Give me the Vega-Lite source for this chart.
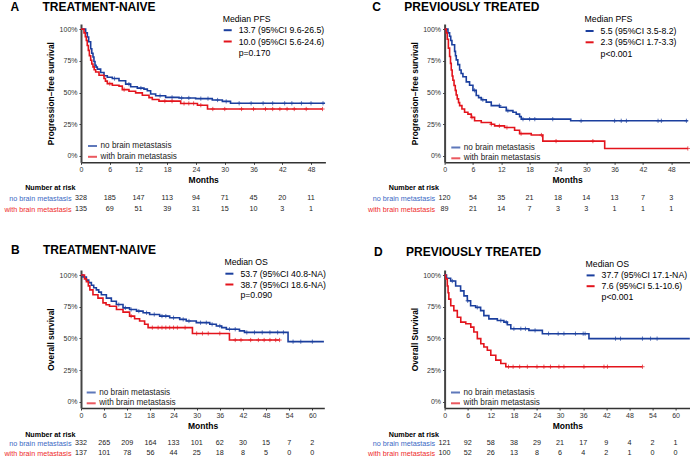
{
  "$schema": "https://vega.github.io/schema/vega-lite/v6.json",
  "padding": {"left": 3, "top": 0, "right": 0, "bottom": 0},
  "config": {"font": "Liberation Sans", "view": {"stroke": null}, "legend": {"padding": 0}, "axis": {"grid": false, "labelOverlap": false, "labelFlush": false, "labelBound": false}},
  "datasets": {
    "km": [
      {"p":"A","g":"no","t":0,"s":1},{"p":"A","g":"no","t":0.97,"s":0.97},{"p":"A","g":"no","t":1.32,"s":0.937},{"p":"A","g":"no","t":1.6,"s":0.9},{"p":"A","g":"no","t":2.02,"s":0.845},{"p":"A","g":"no","t":2.25,"s":0.81},{"p":"A","g":"no","t":2.5,"s":0.78},{"p":"A","g":"no","t":2.7,"s":0.745},{"p":"A","g":"no","t":2.92,"s":0.714},{"p":"A","g":"no","t":3.15,"s":0.7},{"p":"A","g":"no","t":3.41,"s":0.684},{"p":"A","g":"no","t":4.1,"s":0.658},{"p":"A","g":"no","t":4.8,"s":0.632},{"p":"A","g":"no","t":5.49,"s":0.62},{"p":"A","g":"no","t":6.54,"s":0.61},{"p":"A","g":"no","t":7.93,"s":0.593},{"p":"A","g":"no","t":9.32,"s":0.566},{"p":"A","g":"no","t":10.36,"s":0.545},{"p":"A","g":"no","t":11.75,"s":0.535},{"p":"A","g":"no","t":13.14,"s":0.527},{"p":"A","g":"no","t":13.84,"s":0.514},{"p":"A","g":"no","t":14.53,"s":0.488},{"p":"A","g":"no","t":15.58,"s":0.475},{"p":"A","g":"no","t":17.66,"s":0.462},{"p":"A","g":"no","t":20.45,"s":0.457},{"p":"A","g":"no","t":23.92,"s":0.452},{"p":"A","g":"no","t":27.4,"s":0.441},{"p":"A","g":"no","t":29.5,"s":0.43},{"p":"A","g":"no","t":31.2,"s":0.415},{"p":"A","g":"no","t":50.9,"s":0.415},
      {"p":"A","g":"with","t":0,"s":1},{"p":"A","g":"with","t":0.63,"s":0.97},{"p":"A","g":"with","t":0.9,"s":0.94},{"p":"A","g":"with","t":1.11,"s":0.91},{"p":"A","g":"with","t":1.3,"s":0.87},{"p":"A","g":"with","t":1.53,"s":0.832},{"p":"A","g":"with","t":1.75,"s":0.79},{"p":"A","g":"with","t":2.02,"s":0.754},{"p":"A","g":"with","t":2.25,"s":0.725},{"p":"A","g":"with","t":2.5,"s":0.702},{"p":"A","g":"with","t":2.75,"s":0.68},{"p":"A","g":"with","t":3.06,"s":0.662},{"p":"A","g":"with","t":3.76,"s":0.636},{"p":"A","g":"with","t":4.8,"s":0.61},{"p":"A","g":"with","t":5.1,"s":0.59},{"p":"A","g":"with","t":5.49,"s":0.57},{"p":"A","g":"with","t":6.54,"s":0.557},{"p":"A","g":"with","t":7.93,"s":0.55},{"p":"A","g":"with","t":8.62,"s":0.523},{"p":"A","g":"with","t":10.01,"s":0.51},{"p":"A","g":"with","t":11.4,"s":0.497},{"p":"A","g":"with","t":12.8,"s":0.479},{"p":"A","g":"with","t":14.19,"s":0.46},{"p":"A","g":"with","t":14.88,"s":0.445},{"p":"A","g":"with","t":16.27,"s":0.432},{"p":"A","g":"with","t":20.8,"s":0.414},{"p":"A","g":"with","t":24.3,"s":0.4},{"p":"A","g":"with","t":26.4,"s":0.37},{"p":"A","g":"with","t":50.4,"s":0.37},
      {"p":"C","g":"no","t":0,"s":1},{"p":"C","g":"no","t":0.71,"s":0.97},{"p":"C","g":"no","t":1.06,"s":0.944},{"p":"C","g":"no","t":1.3,"s":0.91},{"p":"C","g":"no","t":1.55,"s":0.877},{"p":"C","g":"no","t":2.12,"s":0.824},{"p":"C","g":"no","t":2.3,"s":0.79},{"p":"C","g":"no","t":2.47,"s":0.757},{"p":"C","g":"no","t":2.8,"s":0.72},{"p":"C","g":"no","t":3.18,"s":0.677},{"p":"C","g":"no","t":3.5,"s":0.65},{"p":"C","g":"no","t":3.88,"s":0.624},{"p":"C","g":"no","t":4.59,"s":0.584},{"p":"C","g":"no","t":5.29,"s":0.557},{"p":"C","g":"no","t":6.0,"s":0.517},{"p":"C","g":"no","t":6.7,"s":0.477},{"p":"C","g":"no","t":7.2,"s":0.46},{"p":"C","g":"no","t":7.76,"s":0.443},{"p":"C","g":"no","t":8.82,"s":0.424},{"p":"C","g":"no","t":9.88,"s":0.397},{"p":"C","g":"no","t":11.64,"s":0.384},{"p":"C","g":"no","t":13.06,"s":0.357},{"p":"C","g":"no","t":14.47,"s":0.344},{"p":"C","g":"no","t":15.17,"s":0.33},{"p":"C","g":"no","t":15.88,"s":0.31},{"p":"C","g":"no","t":16.23,"s":0.29},{"p":"C","g":"no","t":26.7,"s":0.277},{"p":"C","g":"no","t":51.5,"s":0.277},
      {"p":"C","g":"with","t":0,"s":1},{"p":"C","g":"with","t":0.35,"s":0.97},{"p":"C","g":"with","t":0.56,"s":0.92},{"p":"C","g":"with","t":0.8,"s":0.85},{"p":"C","g":"with","t":1.06,"s":0.784},{"p":"C","g":"with","t":1.25,"s":0.73},{"p":"C","g":"with","t":1.41,"s":0.677},{"p":"C","g":"with","t":1.6,"s":0.63},{"p":"C","g":"with","t":1.76,"s":0.597},{"p":"C","g":"with","t":2.0,"s":0.555},{"p":"C","g":"with","t":2.26,"s":0.517},{"p":"C","g":"with","t":2.45,"s":0.48},{"p":"C","g":"with","t":2.68,"s":0.45},{"p":"C","g":"with","t":2.95,"s":0.42},{"p":"C","g":"with","t":3.18,"s":0.397},{"p":"C","g":"with","t":3.67,"s":0.37},{"p":"C","g":"with","t":4.23,"s":0.344},{"p":"C","g":"with","t":4.94,"s":0.33},{"p":"C","g":"with","t":5.65,"s":0.304},{"p":"C","g":"with","t":6.35,"s":0.277},{"p":"C","g":"with","t":7.76,"s":0.264},{"p":"C","g":"with","t":9.88,"s":0.25},{"p":"C","g":"with","t":10.59,"s":0.237},{"p":"C","g":"with","t":12.7,"s":0.224},{"p":"C","g":"with","t":14.82,"s":0.203},{"p":"C","g":"with","t":15.88,"s":0.176},{"p":"C","g":"with","t":18.35,"s":0.165},{"p":"C","g":"with","t":20.8,"s":0.117},{"p":"C","g":"with","t":33.9,"s":0.059},{"p":"C","g":"with","t":51.5,"s":0.059},
      {"p":"B","g":"no","t":0,"s":1},{"p":"B","g":"no","t":0.5,"s":0.985},{"p":"B","g":"no","t":1.39,"s":0.96},{"p":"B","g":"no","t":2.0,"s":0.94},{"p":"B","g":"no","t":2.69,"s":0.92},{"p":"B","g":"no","t":3.3,"s":0.9},{"p":"B","g":"no","t":3.98,"s":0.883},{"p":"B","g":"no","t":4.6,"s":0.865},{"p":"B","g":"no","t":5.28,"s":0.844},{"p":"B","g":"no","t":6.58,"s":0.818},{"p":"B","g":"no","t":7.87,"s":0.793},{"p":"B","g":"no","t":9.17,"s":0.767},{"p":"B","g":"no","t":10.9,"s":0.741},{"p":"B","g":"no","t":12.6,"s":0.728},{"p":"B","g":"no","t":14.4,"s":0.715},{"p":"B","g":"no","t":16.1,"s":0.702},{"p":"B","g":"no","t":17.8,"s":0.689},{"p":"B","g":"no","t":20.4,"s":0.676},{"p":"B","g":"no","t":23.0,"s":0.663},{"p":"B","g":"no","t":25.6,"s":0.65},{"p":"B","g":"no","t":27.3,"s":0.637},{"p":"B","g":"no","t":29.9,"s":0.624},{"p":"B","g":"no","t":33.4,"s":0.611},{"p":"B","g":"no","t":35.1,"s":0.598},{"p":"B","g":"no","t":36.5,"s":0.585},{"p":"B","g":"no","t":37.7,"s":0.572},{"p":"B","g":"no","t":41.1,"s":0.559},{"p":"B","g":"no","t":42.4,"s":0.547},{"p":"B","g":"no","t":53.7,"s":0.474},{"p":"B","g":"no","t":63.0,"s":0.474},
      {"p":"B","g":"with","t":0,"s":1},{"p":"B","g":"with","t":0.9,"s":0.97},{"p":"B","g":"with","t":1.4,"s":0.948},{"p":"B","g":"with","t":1.9,"s":0.915},{"p":"B","g":"with","t":2.3,"s":0.883},{"p":"B","g":"with","t":3.1,"s":0.844},{"p":"B","g":"with","t":4.4,"s":0.818},{"p":"B","g":"with","t":5.7,"s":0.78},{"p":"B","g":"with","t":6.5,"s":0.765},{"p":"B","g":"with","t":7.4,"s":0.754},{"p":"B","g":"with","t":9.2,"s":0.728},{"p":"B","g":"with","t":10.9,"s":0.707},{"p":"B","g":"with","t":12.6,"s":0.676},{"p":"B","g":"with","t":13.9,"s":0.655},{"p":"B","g":"with","t":15.2,"s":0.637},{"p":"B","g":"with","t":16.5,"s":0.611},{"p":"B","g":"with","t":17.4,"s":0.585},{"p":"B","g":"with","t":28.9,"s":0.539},{"p":"B","g":"with","t":38.5,"s":0.487},{"p":"B","g":"with","t":51.5,"s":0.487},
      {"p":"D","g":"no","t":0,"s":1},{"p":"D","g":"no","t":0.5,"s":0.975},{"p":"D","g":"no","t":1.57,"s":0.953},{"p":"D","g":"no","t":2.87,"s":0.914},{"p":"D","g":"no","t":4.16,"s":0.875},{"p":"D","g":"no","t":5.03,"s":0.836},{"p":"D","g":"no","t":5.9,"s":0.797},{"p":"D","g":"no","t":6.76,"s":0.758},{"p":"D","g":"no","t":8.06,"s":0.745},{"p":"D","g":"no","t":9.36,"s":0.719},{"p":"D","g":"no","t":10.2,"s":0.68},{"p":"D","g":"no","t":11.5,"s":0.654},{"p":"D","g":"no","t":13.7,"s":0.641},{"p":"D","g":"no","t":15.4,"s":0.628},{"p":"D","g":"no","t":16.3,"s":0.607},{"p":"D","g":"no","t":17.2,"s":0.576},{"p":"D","g":"no","t":21.9,"s":0.563},{"p":"D","g":"no","t":25.4,"s":0.537},{"p":"D","g":"no","t":37.5,"s":0.498},{"p":"D","g":"no","t":63.7,"s":0.498},
      {"p":"D","g":"with","t":0,"s":1},{"p":"D","g":"with","t":0.3,"s":0.97},{"p":"D","g":"with","t":0.7,"s":0.914},{"p":"D","g":"with","t":0.9,"s":0.86},{"p":"D","g":"with","t":1.1,"s":0.81},{"p":"D","g":"with","t":1.6,"s":0.758},{"p":"D","g":"with","t":2.4,"s":0.719},{"p":"D","g":"with","t":3.3,"s":0.667},{"p":"D","g":"with","t":4.2,"s":0.628},{"p":"D","g":"with","t":5.5,"s":0.615},{"p":"D","g":"with","t":6.8,"s":0.589},{"p":"D","g":"with","t":7.6,"s":0.55},{"p":"D","g":"with","t":8.5,"s":0.498},{"p":"D","g":"with","t":9.4,"s":0.458},{"p":"D","g":"with","t":10.2,"s":0.432},{"p":"D","g":"with","t":11.1,"s":0.406},{"p":"D","g":"with","t":12.0,"s":0.367},{"p":"D","g":"with","t":13.3,"s":0.328},{"p":"D","g":"with","t":14.6,"s":0.302},{"p":"D","g":"with","t":15.9,"s":0.276},{"p":"D","g":"with","t":51.4,"s":0.276}
    ],
    "cens": [
      {"p":"A","g":"no","t":7,"s":0.61},{"p":"A","g":"no","t":10,"s":0.566},{"p":"A","g":"no","t":12.5,"s":0.535},{"p":"A","g":"no","t":16.5,"s":0.475},{"p":"A","g":"no","t":19,"s":0.462},{"p":"A","g":"no","t":21,"s":0.457},{"p":"A","g":"no","t":22.5,"s":0.457},{"p":"A","g":"no","t":25,"s":0.452},{"p":"A","g":"no","t":26.5,"s":0.452},{"p":"A","g":"no","t":28.5,"s":0.441},{"p":"A","g":"no","t":30.3,"s":0.43},{"p":"A","g":"no","t":33,"s":0.415},{"p":"A","g":"no","t":35.5,"s":0.415},{"p":"A","g":"no","t":38,"s":0.415},{"p":"A","g":"no","t":40,"s":0.415},{"p":"A","g":"no","t":42.5,"s":0.415},{"p":"A","g":"no","t":44,"s":0.415},{"p":"A","g":"no","t":46,"s":0.415},{"p":"A","g":"no","t":48,"s":0.415},{"p":"A","g":"no","t":50.5,"s":0.415},
      {"p":"A","g":"with","t":6,"s":0.57},{"p":"A","g":"with","t":9,"s":0.523},{"p":"A","g":"with","t":17.5,"s":0.432},{"p":"A","g":"with","t":19,"s":0.432},{"p":"A","g":"with","t":21.5,"s":0.414},{"p":"A","g":"with","t":22.5,"s":0.414},{"p":"A","g":"with","t":23.5,"s":0.414},{"p":"A","g":"with","t":25,"s":0.4},{"p":"A","g":"with","t":27.5,"s":0.37},{"p":"A","g":"with","t":30,"s":0.37},{"p":"A","g":"with","t":33.5,"s":0.37},{"p":"A","g":"with","t":36,"s":0.37},{"p":"A","g":"with","t":38.5,"s":0.37},{"p":"A","g":"with","t":40,"s":0.37},{"p":"A","g":"with","t":41.5,"s":0.37},{"p":"A","g":"with","t":43,"s":0.37},{"p":"A","g":"with","t":44.5,"s":0.37},{"p":"A","g":"with","t":47,"s":0.37},{"p":"A","g":"with","t":50.4,"s":0.37},
      {"p":"C","g":"no","t":6.35,"s":0.517},{"p":"C","g":"no","t":8.1,"s":0.443},{"p":"C","g":"no","t":11.6,"s":0.397},{"p":"C","g":"no","t":13.4,"s":0.357},{"p":"C","g":"no","t":16.6,"s":0.29},{"p":"C","g":"no","t":18,"s":0.29},{"p":"C","g":"no","t":19.1,"s":0.29},{"p":"C","g":"no","t":22.9,"s":0.29},{"p":"C","g":"no","t":28.9,"s":0.277},{"p":"C","g":"no","t":36,"s":0.277},{"p":"C","g":"no","t":37.4,"s":0.277},{"p":"C","g":"no","t":38.5,"s":0.277},{"p":"C","g":"no","t":45.2,"s":0.277},{"p":"C","g":"no","t":45.9,"s":0.277},{"p":"C","g":"no","t":51.2,"s":0.277},
      {"p":"C","g":"with","t":5.8,"s":0.304},{"p":"C","g":"with","t":9.9,"s":0.25},{"p":"C","g":"with","t":11.6,"s":0.237},{"p":"C","g":"with","t":13.2,"s":0.224},{"p":"C","g":"with","t":16.2,"s":0.176},{"p":"C","g":"with","t":20.5,"s":0.165},{"p":"C","g":"with","t":23.6,"s":0.117},{"p":"C","g":"with","t":31.4,"s":0.117},{"p":"C","g":"with","t":51.5,"s":0.059},
      {"p":"B","g":"no","t":9.8,"s":0.767},{"p":"B","g":"no","t":11.5,"s":0.741},{"p":"B","g":"no","t":13,"s":0.728},{"p":"B","g":"no","t":15,"s":0.715},{"p":"B","g":"no","t":17,"s":0.702},{"p":"B","g":"no","t":19,"s":0.689},{"p":"B","g":"no","t":21,"s":0.676},{"p":"B","g":"no","t":22,"s":0.676},{"p":"B","g":"no","t":24,"s":0.663},{"p":"B","g":"no","t":26.5,"s":0.65},{"p":"B","g":"no","t":28,"s":0.637},{"p":"B","g":"no","t":31,"s":0.624},{"p":"B","g":"no","t":32.5,"s":0.624},{"p":"B","g":"no","t":34,"s":0.611},{"p":"B","g":"no","t":36,"s":0.598},{"p":"B","g":"no","t":38.5,"s":0.572},{"p":"B","g":"no","t":40,"s":0.572},{"p":"B","g":"no","t":43,"s":0.547},{"p":"B","g":"no","t":45,"s":0.547},{"p":"B","g":"no","t":47,"s":0.547},{"p":"B","g":"no","t":49,"s":0.547},{"p":"B","g":"no","t":51,"s":0.547},{"p":"B","g":"no","t":52.5,"s":0.547},{"p":"B","g":"no","t":55,"s":0.474},{"p":"B","g":"no","t":57,"s":0.474},{"p":"B","g":"no","t":60,"s":0.474},
      {"p":"B","g":"with","t":13,"s":0.676},{"p":"B","g":"with","t":18.5,"s":0.585},{"p":"B","g":"with","t":20,"s":0.585},{"p":"B","g":"with","t":21,"s":0.585},{"p":"B","g":"with","t":22,"s":0.585},{"p":"B","g":"with","t":23,"s":0.585},{"p":"B","g":"with","t":24,"s":0.585},{"p":"B","g":"with","t":25,"s":0.585},{"p":"B","g":"with","t":27,"s":0.585},{"p":"B","g":"with","t":30,"s":0.539},{"p":"B","g":"with","t":31.5,"s":0.539},{"p":"B","g":"with","t":33,"s":0.539},{"p":"B","g":"with","t":36,"s":0.539},{"p":"B","g":"with","t":40,"s":0.487},{"p":"B","g":"with","t":41.5,"s":0.487},{"p":"B","g":"with","t":44,"s":0.487},{"p":"B","g":"with","t":46,"s":0.487},{"p":"B","g":"with","t":47.5,"s":0.487},{"p":"B","g":"with","t":49,"s":0.487},{"p":"B","g":"with","t":50.5,"s":0.487},{"p":"B","g":"with","t":51.5,"s":0.487},
      {"p":"D","g":"no","t":2.0,"s":0.953},{"p":"D","g":"no","t":6.0,"s":0.797},{"p":"D","g":"no","t":8.5,"s":0.745},{"p":"D","g":"no","t":14.6,"s":0.641},{"p":"D","g":"no","t":16.0,"s":0.628},{"p":"D","g":"no","t":18.0,"s":0.576},{"p":"D","g":"no","t":19.8,"s":0.576},{"p":"D","g":"no","t":21.0,"s":0.576},{"p":"D","g":"no","t":23.5,"s":0.563},{"p":"D","g":"no","t":27,"s":0.537},{"p":"D","g":"no","t":29.5,"s":0.537},{"p":"D","g":"no","t":31,"s":0.537},{"p":"D","g":"no","t":34,"s":0.537},{"p":"D","g":"no","t":36,"s":0.537},{"p":"D","g":"no","t":36.5,"s":0.537},{"p":"D","g":"no","t":44.4,"s":0.498},{"p":"D","g":"no","t":45.7,"s":0.498},{"p":"D","g":"no","t":51.4,"s":0.498},{"p":"D","g":"no","t":53.5,"s":0.498},{"p":"D","g":"no","t":55.2,"s":0.498},
      {"p":"D","g":"with","t":16.6,"s":0.276},{"p":"D","g":"with","t":17.8,"s":0.276},{"p":"D","g":"with","t":19.5,"s":0.276},{"p":"D","g":"with","t":21.5,"s":0.276},{"p":"D","g":"with","t":24.0,"s":0.276},{"p":"D","g":"with","t":25.8,"s":0.276},{"p":"D","g":"with","t":27.5,"s":0.276},{"p":"D","g":"with","t":29.7,"s":0.276},{"p":"D","g":"with","t":31.0,"s":0.276},{"p":"D","g":"with","t":36.2,"s":0.276},{"p":"D","g":"with","t":41.4,"s":0.276},{"p":"D","g":"with","t":42.3,"s":0.276},{"p":"D","g":"with","t":51.4,"s":0.276}
    ],
    "risk": [
      {"p":"A","g":"no","t":0,"n":328},{"p":"A","g":"no","t":6,"n":185},{"p":"A","g":"no","t":12,"n":147},{"p":"A","g":"no","t":18,"n":113},{"p":"A","g":"no","t":24,"n":94},{"p":"A","g":"no","t":30,"n":71},{"p":"A","g":"no","t":36,"n":45},{"p":"A","g":"no","t":42,"n":20},{"p":"A","g":"no","t":48,"n":11},
      {"p":"A","g":"with","t":0,"n":135},{"p":"A","g":"with","t":6,"n":69},{"p":"A","g":"with","t":12,"n":51},{"p":"A","g":"with","t":18,"n":39},{"p":"A","g":"with","t":24,"n":31},{"p":"A","g":"with","t":30,"n":15},{"p":"A","g":"with","t":36,"n":10},{"p":"A","g":"with","t":42,"n":3},{"p":"A","g":"with","t":48,"n":1},
      {"p":"C","g":"no","t":0,"n":120},{"p":"C","g":"no","t":6,"n":54},{"p":"C","g":"no","t":12,"n":35},{"p":"C","g":"no","t":18,"n":21},{"p":"C","g":"no","t":24,"n":18},{"p":"C","g":"no","t":30,"n":14},{"p":"C","g":"no","t":36,"n":13},{"p":"C","g":"no","t":42,"n":7},{"p":"C","g":"no","t":48,"n":3},
      {"p":"C","g":"with","t":0,"n":89},{"p":"C","g":"with","t":6,"n":21},{"p":"C","g":"with","t":12,"n":14},{"p":"C","g":"with","t":18,"n":7},{"p":"C","g":"with","t":24,"n":3},{"p":"C","g":"with","t":30,"n":3},{"p":"C","g":"with","t":36,"n":1},{"p":"C","g":"with","t":42,"n":1},{"p":"C","g":"with","t":48,"n":1},
      {"p":"B","g":"no","t":0,"n":332},{"p":"B","g":"no","t":6,"n":265},{"p":"B","g":"no","t":12,"n":209},{"p":"B","g":"no","t":18,"n":164},{"p":"B","g":"no","t":24,"n":133},{"p":"B","g":"no","t":30,"n":101},{"p":"B","g":"no","t":36,"n":62},{"p":"B","g":"no","t":42,"n":30},{"p":"B","g":"no","t":48,"n":15},{"p":"B","g":"no","t":54,"n":7},{"p":"B","g":"no","t":60,"n":2},
      {"p":"B","g":"with","t":0,"n":137},{"p":"B","g":"with","t":6,"n":101},{"p":"B","g":"with","t":12,"n":78},{"p":"B","g":"with","t":18,"n":56},{"p":"B","g":"with","t":24,"n":44},{"p":"B","g":"with","t":30,"n":25},{"p":"B","g":"with","t":36,"n":18},{"p":"B","g":"with","t":42,"n":8},{"p":"B","g":"with","t":48,"n":5},{"p":"B","g":"with","t":54,"n":0},{"p":"B","g":"with","t":60,"n":0},
      {"p":"D","g":"no","t":0,"n":121},{"p":"D","g":"no","t":6,"n":92},{"p":"D","g":"no","t":12,"n":58},{"p":"D","g":"no","t":18,"n":38},{"p":"D","g":"no","t":24,"n":29},{"p":"D","g":"no","t":30,"n":21},{"p":"D","g":"no","t":36,"n":17},{"p":"D","g":"no","t":42,"n":9},{"p":"D","g":"no","t":48,"n":4},{"p":"D","g":"no","t":54,"n":2},{"p":"D","g":"no","t":60,"n":1},
      {"p":"D","g":"with","t":0,"n":100},{"p":"D","g":"with","t":6,"n":52},{"p":"D","g":"with","t":12,"n":26},{"p":"D","g":"with","t":18,"n":13},{"p":"D","g":"with","t":24,"n":8},{"p":"D","g":"with","t":30,"n":6},{"p":"D","g":"with","t":36,"n":4},{"p":"D","g":"with","t":42,"n":2},{"p":"D","g":"with","t":48,"n":1},{"p":"D","g":"with","t":54,"n":0},{"p":"D","g":"with","t":60,"n":0}
    ],
    "med": [
      {"p":"A","label":"13.7 (95%CI 9.6-26.5)"},{"p":"A","label":"10.0 (95%CI 5.6-24.6)"},{"p":"A","label":"p=0.170"},
      {"p":"C","label":"5.5 (95%CI 3.5-8.2)"},{"p":"C","label":"2.3 (95%CI 1.7-3.3)"},{"p":"C","label":"p<0.001"},
      {"p":"B","label":"53.7 (95%CI 40.8-NA)"},{"p":"B","label":"38.7 (95%CI 18.6-NA)"},{"p":"B","label":"p=0.090"},
      {"p":"D","label":"37.7 (95%CI 17.1-NA)"},{"p":"D","label":"7.6 (95%CI 5.1-10.6)"},{"p":"D","label":"p<0.001"}
    ]
  },
  "resolve": {"scale": {"x": "independent", "y": "independent", "color": "independent", "stroke": "independent"}, "legend": {"color": "independent", "stroke": "independent"}, "axis": {"x": "independent", "y": "independent"}},
  "bounds": "flush",
  "columns": 2,
  "spacing": {"row": 2, "column": 118.6},
  "concat": [
    {
      "width": 244.4, "height": 138.3,
      "title": {"text": "A\u00a0\u00a0\u00a0\u00a0\u00a0\u00a0\u00a0TREATMENT-NAIVE", "anchor": "start", "frame": "group", "dx": -70.5, "offset": 1, "fontSize": 12, "fontWeight": "bold", "color": "#000"},
      "encoding": {
        "x": {"field": "t", "type": "quantitative", "scale": {"domain": [0, 51], "nice": false, "zero": false},
              "axis": {"values": [0,6,12,18,24,30,36,42,48], "labelOverlap": false, "labelBound": false, "format": "d", "title": "Months", "titleFontSize": 8.5, "titleFontWeight": "bold", "titleColor": "#000", "titlePadding": 3, "labelFontSize": 7, "labelColor": "#333", "labelPadding": 1, "tickSize": 2, "tickColor": "#333", "domainColor": "#333", "domainWidth": 1.5}},
        "y": {"field": "s", "type": "quantitative", "scale": {"domain": [-0.05, 1.04], "nice": false, "zero": false},
              "axis": {"values": [0,0.25,0.5,0.75,1], "labelOverlap": false, "labelBound": false, "format": ".0%", "title": "Progression−free survival", "titleFontSize": 8.4, "titleFontWeight": "bold", "titleColor": "#000", "titlePadding": 3.5, "labelFontSize": 7, "labelColor": "#333", "labelPadding": 2, "tickSize": 2, "tickColor": "#333", "domainColor": "#444", "domainWidth": 2}}
      },
      "layer": [
        {"data": {"name": "km"}, "transform": [{"filter": "datum.p == 'A'"}],
         "mark": {"type": "line", "interpolate": "step-after", "strokeWidth": 1.6},
         "encoding": {
           "stroke": {"field": "g", "type": "nominal", "scale": {"domain": ["no", "with"], "range": ["#1b3f9e", "#e3141c"]},
                 "legend": {"orient": "none", "legendX": 6, "legendY": 116.5, "title": null, "labelExpr": "datum.value == 'no' ? 'no brain metastasis' : 'with brain metastasis'", "labelFontSize": 8.2, "labelColor": "#222", "symbolType": "stroke", "symbolSize": 81, "symbolStrokeWidth": 2, "labelOffset": 2.5, "rowPadding": 0.8}}
         }},
        {"data": {"name": "cens"}, "transform": [{"filter": "datum.p == 'A'"}],
         "mark": {"type": "point", "shape": "M-1,0H1M0,-1V1", "filled": false, "size": 18, "strokeWidth": 1},
         "encoding": {"stroke": {"field": "g", "type": "nominal"}}},
        {"data": {"name": "med"}, "transform": [{"filter": "datum.p == 'A'"}],
         "mark": {"type": "point", "shape": "stroke", "size": 0, "filled": false},
         "encoding": {"x": {"value": 0}, "y": {"value": 0}, "color": {"field": "label", "type": "nominal", "scale": {"domain": ["13.7 (95%CI 9.6-26.5)", "10.0 (95%CI 5.6-24.6)", "p=0.170"], "range": ["#1b3f9e", "#e3141c", "rgba(0,0,0,0)"]},
           "legend": {"orient": "none", "legendX": 141.7, "legendY": -9.5, "title": "Median PFS", "titleFontSize": 8.7, "titleFontWeight": "normal", "titleColor": "#000", "titlePadding": 2, "labelFontSize": 8.7, "labelColor": "#000", "symbolType": "stroke", "symbolSize": 64, "symbolStrokeWidth": 2, "symbolOpacity": 1, "labelOffset": 6, "rowPadding": 1.3}}}}
      ]
    },
    {
      "width": 245.1, "height": 138.3,
      "title": {"text": "C\u00a0\u00a0\u00a0\u00a0\u00a0\u00a0\u00a0PREVIOUSLY TREATED", "anchor": "start", "frame": "group", "dx": -72.3, "offset": 1, "fontSize": 12, "fontWeight": "bold", "color": "#000"},
      "encoding": {
        "x": {"field": "t", "type": "quantitative", "scale": {"domain": [0, 51.9], "nice": false, "zero": false},
              "axis": {"values": [0,6,12,18,24,30,36,42,48], "labelOverlap": false, "labelBound": false, "format": "d", "title": "Months", "titleFontSize": 8.5, "titleFontWeight": "bold", "titleColor": "#000", "titlePadding": 3, "labelFontSize": 7, "labelColor": "#333", "labelPadding": 1, "tickSize": 2, "tickColor": "#333", "domainColor": "#333", "domainWidth": 1.5}},
        "y": {"field": "s", "type": "quantitative", "scale": {"domain": [-0.05, 1.04], "nice": false, "zero": false},
              "axis": {"values": [0,0.25,0.5,0.75,1], "labelOverlap": false, "labelBound": false, "format": ".0%", "title": "Progression−free survival", "titleFontSize": 8.4, "titleFontWeight": "bold", "titleColor": "#000", "titlePadding": 3.5, "labelFontSize": 7, "labelColor": "#333", "labelPadding": 2, "tickSize": 2, "tickColor": "#333", "domainColor": "#444", "domainWidth": 2}}
      },
      "layer": [
        {"data": {"name": "km"}, "transform": [{"filter": "datum.p == 'C'"}],
         "mark": {"type": "line", "interpolate": "step-after", "strokeWidth": 1.6},
         "encoding": {
           "stroke": {"field": "g", "type": "nominal", "scale": {"domain": ["no", "with"], "range": ["#1b3f9e", "#e3141c"]},
                 "legend": {"orient": "none", "legendX": 5.7, "legendY": 118, "title": null, "labelExpr": "datum.value == 'no' ? 'no brain metastasis' : 'with brain metastasis'", "labelFontSize": 8.2, "labelColor": "#222", "symbolType": "stroke", "symbolSize": 81, "symbolStrokeWidth": 2, "labelOffset": 2.5, "rowPadding": 0.8}}
         }},
        {"data": {"name": "cens"}, "transform": [{"filter": "datum.p == 'C'"}],
         "mark": {"type": "point", "shape": "M-1,0H1M0,-1V1", "filled": false, "size": 18, "strokeWidth": 1},
         "encoding": {"stroke": {"field": "g", "type": "nominal"}}},
        {"data": {"name": "med"}, "transform": [{"filter": "datum.p == 'C'"}],
         "mark": {"type": "point", "shape": "stroke", "size": 0, "filled": false},
         "encoding": {"x": {"value": 0}, "y": {"value": 0}, "color": {"field": "label", "type": "nominal", "scale": {"domain": ["5.5 (95%CI 3.5-8.2)", "2.3 (95%CI 1.7-3.3)", "p<0.001"], "range": ["#1b3f9e", "#e3141c", "rgba(0,0,0,0)"]},
           "legend": {"orient": "none", "legendX": 140, "legendY": -8.7, "title": "Median PFS", "titleFontSize": 8.7, "titleFontWeight": "normal", "titleColor": "#000", "titlePadding": 2, "labelFontSize": 8.7, "labelColor": "#000", "symbolType": "stroke", "symbolSize": 64, "symbolStrokeWidth": 2, "symbolOpacity": 1, "labelOffset": 6, "rowPadding": 1.3}}}}
      ]
    },
    {
      "width": 244.4, "height": 102.4,
      "data": {"name": "risk"}, "transform": [{"filter": "datum.p == 'A'"}],
      "mark": {"type": "text", "fontSize": 7.2, "color": "#222"},
      "encoding": {
        "x": {"field": "t", "type": "quantitative", "scale": {"domain": [0, 51], "nice": false, "zero": false}, "axis": null},
        "y": {"field": "g", "type": "nominal", "sort": ["no", "with"], "scale": {"type": "point", "padding": 0, "range": [33, 44]},
              "axis": {"title": "Number at risk", "titleAngle": 0, "titleAlign": "right", "titleBaseline": "middle", "titleX": -6, "titleY": 22.4, "titleFontSize": 7.2, "titleFontWeight": "bold", "titleColor": "#000", "labelExpr": "datum.value == 'no' ? 'no brain metastasis' : 'with brain metastasis'", "labelFontSize": 7.2, "labelColor": {"condition": {"test": "datum.value == 'no'", "value": "#3a68c4"}, "value": "#ee2b2b"}, "labelPadding": 10, "domain": false, "ticks": false}},
        "text": {"field": "n", "type": "quantitative"}
      }
    },
    {
      "width": 245.1, "height": 102.4,
      "data": {"name": "risk"}, "transform": [{"filter": "datum.p == 'C'"}],
      "mark": {"type": "text", "fontSize": 7.2, "color": "#222"},
      "encoding": {
        "x": {"field": "t", "type": "quantitative", "scale": {"domain": [0, 51.9], "nice": false, "zero": false}, "axis": null},
        "y": {"field": "g", "type": "nominal", "sort": ["no", "with"], "scale": {"type": "point", "padding": 0, "range": [33, 44]},
              "axis": {"title": "Number at risk", "titleAngle": 0, "titleAlign": "right", "titleBaseline": "middle", "titleX": -6, "titleY": 22.4, "titleFontSize": 7.2, "titleFontWeight": "bold", "titleColor": "#000", "labelExpr": "datum.value == 'no' ? 'no brain metastasis' : 'with brain metastasis'", "labelFontSize": 7.2, "labelColor": {"condition": {"test": "datum.value == 'no'", "value": "#3a68c4"}, "value": "#ee2b2b"}, "labelPadding": 10, "domain": false, "ticks": false}},
        "text": {"field": "n", "type": "quantitative"}
      }
    },
    {
      "width": 243.3, "height": 138,
      "title": {"text": "B\u00a0\u00a0\u00a0\u00a0\u00a0\u00a0\u00a0TREATMENT-NAIVE", "anchor": "start", "frame": "group", "dx": -70, "offset": 1, "fontSize": 12, "fontWeight": "bold", "color": "#000"},
      "encoding": {
        "x": {"field": "t", "type": "quantitative", "scale": {"domain": [0, 63.1], "nice": false, "zero": false},
              "axis": {"values": [0,6,12,18,24,30,36,42,48,54,60], "labelOverlap": false, "labelBound": false, "format": "d", "title": "Months", "titleFontSize": 8.5, "titleFontWeight": "bold", "titleColor": "#000", "titlePadding": 3, "labelFontSize": 7, "labelColor": "#333", "labelPadding": 1, "tickSize": 2, "tickColor": "#333", "domainColor": "#333", "domainWidth": 1.5}},
        "y": {"field": "s", "type": "quantitative", "scale": {"domain": [-0.05, 1.04], "nice": false, "zero": false},
              "axis": {"values": [0,0.25,0.5,0.75,1], "labelOverlap": false, "labelBound": false, "format": ".0%", "title": "Overall survival", "titleFontSize": 8.4, "titleFontWeight": "bold", "titleColor": "#000", "titlePadding": 3.5, "labelFontSize": 7, "labelColor": "#333", "labelPadding": 2, "tickSize": 2, "tickColor": "#333", "domainColor": "#444", "domainWidth": 2}}
      },
      "layer": [
        {"data": {"name": "km"}, "transform": [{"filter": "datum.p == 'B'"}],
         "mark": {"type": "line", "interpolate": "step-after", "strokeWidth": 1.6},
         "encoding": {
           "stroke": {"field": "g", "type": "nominal", "scale": {"domain": ["no", "with"], "range": ["#1b3f9e", "#e3141c"]},
                 "legend": {"orient": "none", "legendX": 4.7, "legendY": 117, "title": null, "labelExpr": "datum.value == 'no' ? 'no brain metastasis' : 'with brain metastasis'", "labelFontSize": 8.2, "labelColor": "#222", "symbolType": "stroke", "symbolSize": 81, "symbolStrokeWidth": 2, "labelOffset": 2.5, "rowPadding": 0.8}}
         }},
        {"data": {"name": "cens"}, "transform": [{"filter": "datum.p == 'B'"}],
         "mark": {"type": "point", "shape": "M-1,0H1M0,-1V1", "filled": false, "size": 18, "strokeWidth": 1},
         "encoding": {"stroke": {"field": "g", "type": "nominal"}}},
        {"data": {"name": "med"}, "transform": [{"filter": "datum.p == 'B'"}],
         "mark": {"type": "point", "shape": "stroke", "size": 0, "filled": false},
         "encoding": {"x": {"value": 0}, "y": {"value": 0}, "color": {"field": "label", "type": "nominal", "scale": {"domain": ["53.7 (95%CI 40.8-NA)", "38.7 (95%CI 18.6-NA)", "p=0.090"], "range": ["#1b3f9e", "#e3141c", "rgba(0,0,0,0)"]},
           "legend": {"orient": "none", "legendX": 143.4, "legendY": -12, "title": "Median OS", "titleFontSize": 8.7, "titleFontWeight": "normal", "titleColor": "#000", "titlePadding": 2, "labelFontSize": 8.7, "labelColor": "#000", "symbolType": "stroke", "symbolSize": 64, "symbolStrokeWidth": 2, "symbolOpacity": 1, "labelOffset": 6, "rowPadding": 0.8}}}}
      ]
    },
    {
      "width": 245.6, "height": 138,
      "title": {"text": "D\u00a0\u00a0\u00a0\u00a0\u00a0\u00a0\u00a0PREVIOUSLY TREATED", "anchor": "start", "frame": "group", "dx": -70.6, "offset": 1, "fontSize": 12, "fontWeight": "bold", "color": "#000"},
      "encoding": {
        "x": {"field": "t", "type": "quantitative", "scale": {"domain": [0, 63.8], "nice": false, "zero": false},
              "axis": {"values": [0,6,12,18,24,30,36,42,48,54,60], "labelOverlap": false, "labelBound": false, "format": "d", "title": "Months", "titleFontSize": 8.5, "titleFontWeight": "bold", "titleColor": "#000", "titlePadding": 3, "labelFontSize": 7, "labelColor": "#333", "labelPadding": 1, "tickSize": 2, "tickColor": "#333", "domainColor": "#333", "domainWidth": 1.5}},
        "y": {"field": "s", "type": "quantitative", "scale": {"domain": [-0.05, 1.04], "nice": false, "zero": false},
              "axis": {"values": [0,0.25,0.5,0.75,1], "labelOverlap": false, "labelBound": false, "format": ".0%", "title": "Overall Survival", "titleFontSize": 8.4, "titleFontWeight": "bold", "titleColor": "#000", "titlePadding": 3.5, "labelFontSize": 7, "labelColor": "#333", "labelPadding": 2, "tickSize": 2, "tickColor": "#333", "domainColor": "#444", "domainWidth": 2}}
      },
      "layer": [
        {"data": {"name": "km"}, "transform": [{"filter": "datum.p == 'D'"}],
         "mark": {"type": "line", "interpolate": "step-after", "strokeWidth": 1.6},
         "encoding": {
           "stroke": {"field": "g", "type": "nominal", "scale": {"domain": ["no", "with"], "range": ["#1b3f9e", "#e3141c"]},
                 "legend": {"orient": "none", "legendX": 5.4, "legendY": 117, "title": null, "labelExpr": "datum.value == 'no' ? 'no brain metastasis' : 'with brain metastasis'", "labelFontSize": 8.2, "labelColor": "#222", "symbolType": "stroke", "symbolSize": 81, "symbolStrokeWidth": 2, "labelOffset": 2.5, "rowPadding": 0.8}}
         }},
        {"data": {"name": "cens"}, "transform": [{"filter": "datum.p == 'D'"}],
         "mark": {"type": "point", "shape": "M-1,0H1M0,-1V1", "filled": false, "size": 18, "strokeWidth": 1},
         "encoding": {"stroke": {"field": "g", "type": "nominal"}}},
        {"data": {"name": "med"}, "transform": [{"filter": "datum.p == 'D'"}],
         "mark": {"type": "point", "shape": "stroke", "size": 0, "filled": false},
         "encoding": {"x": {"value": 0}, "y": {"value": 0}, "color": {"field": "label", "type": "nominal", "scale": {"domain": ["37.7 (95%CI 17.1-NA)", "7.6 (95%CI 5.1-10.6)", "p<0.001"], "range": ["#1b3f9e", "#e3141c", "rgba(0,0,0,0)"]},
           "legend": {"orient": "none", "legendX": 141, "legendY": -10.3, "title": "Median OS", "titleFontSize": 8.7, "titleFontWeight": "normal", "titleColor": "#000", "titlePadding": 2, "labelFontSize": 8.7, "labelColor": "#000", "symbolType": "stroke", "symbolSize": 64, "symbolStrokeWidth": 2, "symbolOpacity": 1, "labelOffset": 6, "rowPadding": 0.8}}}}
      ]
    },
    {
      "width": 243.3, "height": 46,
      "data": {"name": "risk"}, "transform": [{"filter": "datum.p == 'B'"}],
      "mark": {"type": "text", "fontSize": 7.2, "color": "#222"},
      "encoding": {
        "x": {"field": "t", "type": "quantitative", "scale": {"domain": [0, 63.1], "nice": false, "zero": false}, "axis": null},
        "y": {"field": "g", "type": "nominal", "sort": ["no", "with"], "scale": {"type": "point", "padding": 0, "range": [33.4, 43]},
              "axis": {"title": "Number at risk", "titleAngle": 0, "titleAlign": "right", "titleBaseline": "middle", "titleX": -6, "titleY": 24, "titleFontSize": 7.2, "titleFontWeight": "bold", "titleColor": "#000", "labelExpr": "datum.value == 'no' ? 'no brain metastasis' : 'with brain metastasis'", "labelFontSize": 7.2, "labelColor": {"condition": {"test": "datum.value == 'no'", "value": "#3a68c4"}, "value": "#ee2b2b"}, "labelPadding": 10, "domain": false, "ticks": false}},
        "text": {"field": "n", "type": "quantitative"}
      }
    },
    {
      "width": 245.6, "height": 46,
      "data": {"name": "risk"}, "transform": [{"filter": "datum.p == 'D'"}],
      "mark": {"type": "text", "fontSize": 7.2, "color": "#222"},
      "encoding": {
        "x": {"field": "t", "type": "quantitative", "scale": {"domain": [0, 63.8], "nice": false, "zero": false}, "axis": null},
        "y": {"field": "g", "type": "nominal", "sort": ["no", "with"], "scale": {"type": "point", "padding": 0, "range": [33.4, 43]},
              "axis": {"title": "Number at risk", "titleAngle": 0, "titleAlign": "right", "titleBaseline": "middle", "titleX": -6, "titleY": 24, "titleFontSize": 7.2, "titleFontWeight": "bold", "titleColor": "#000", "labelExpr": "datum.value == 'no' ? 'no brain metastasis' : 'with brain metastasis'", "labelFontSize": 7.2, "labelColor": {"condition": {"test": "datum.value == 'no'", "value": "#3a68c4"}, "value": "#ee2b2b"}, "labelPadding": 10, "domain": false, "ticks": false}},
        "text": {"field": "n", "type": "quantitative"}
      }
    }
  ]
}
